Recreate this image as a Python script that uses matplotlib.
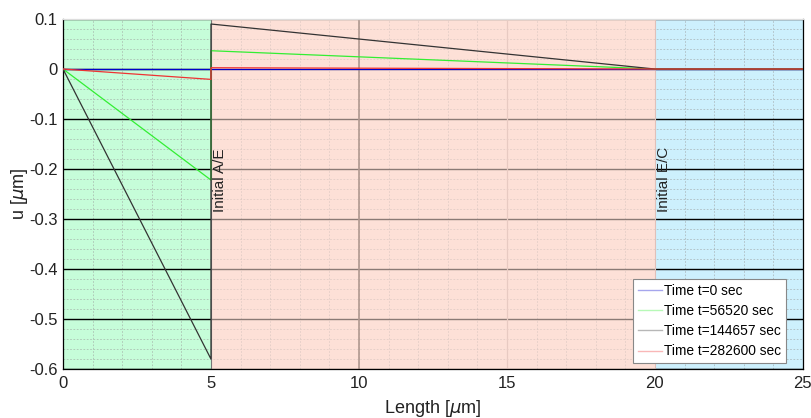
import matplotlib
matplotlib.use("Agg")
import matplotlib.pyplot as plt
from matplotlib.lines import Line2D
import numpy as np

plt.rcParams['font.family'] = ['Liberation Sans', 'DejaVu Sans']
plt.rcParams['axes.unicode_minus'] = False

# Data
x = [0, 5, 5, 20, 25]
labels = ["Time t=0 sec", "Time t=56520 sec", "Time t=144657 sec", "Time t=282600 sec"]
u_t0 = [0, 0, 0, 0, 0]
u_t56520 = [0, -0.222, 0.0366, 0.0, 0.0]
u_t144657 = [0, -0.58, 0.09, 0.0, 0.0]
u_t282600 = [0, -0.0207, 0.0026, 0.0, 0.0]
series = [u_t0, u_t56520, u_t144657, u_t282600]
colors = ['#0000cc', '#33ee33', '#333333', '#ee3333']
regions = [(0, 5, '#c6fdd9'), (5, 20, '#fde0d7'), (20, 25, '#cdf0fd')]
region_labels = [(5, "Initial A/E"), (20, "Initial E/C")]

fig = plt.figure(figsize=(8.11, 4.18), dpi=100)
ax = fig.add_axes([0.0777, 0.117, 0.9123, 0.8375])

ax.set_xlim(0, 25)
ax.set_ylim(-0.6, 0.1)

# region patches
for (a, b, c) in regions:
    ax.axvspan(a, b, color=c, zorder=0, lw=0)

# grid
ax.set_xticks(np.arange(0, 26, 5))
ax.set_yticks(np.round(np.arange(-0.6, 0.101, 0.1), 2))
ax.set_xticks(np.arange(0, 26, 1), minor=True)
ax.set_yticks(np.round(np.arange(-0.6, 0.101, 0.02), 2), minor=True)
ax.grid(which='minor', color='#999999', linestyle=(0, (2, 2)), linewidth=0.6, alpha=0.6, zorder=1)
ax.grid(which='major', axis='y', color='black', linewidth=1.0, zorder=1)
ax.grid(which='major', axis='x', color='#aaaaaa', linestyle=(0, (3, 2)), linewidth=0.7, zorder=1)
ax.set_axisbelow(True)

# salmon overlay to tone down grid in middle region
ax.axvspan(5, 20, color='#fde0d7', alpha=0.55, zorder=1.5, lw=0)
ax.axvline(10, color='#b09890', lw=1.2, zorder=1.6)
ax.axvline(15, color='#e8cac2', lw=0.9, zorder=1.6)
ax.axvline(5, color='#777777', lw=0.8, zorder=1.6)
ax.axvline(20, color='#e0c0b8', lw=0.8, zorder=1.6)

for u, c in zip(series, colors):
    ax.plot(x, u, color=c, lw=0.9, zorder=3)

fmt = lambda v: '0' if abs(v) < 1e-9 else ('%g' % v)
ax.set_xticklabels([fmt(v) for v in np.arange(0, 26, 5)])
ax.set_yticklabels([fmt(v) for v in np.round(np.arange(-0.6, 0.101, 0.1), 2)])
ax.tick_params(which='both', length=0, labelsize=12, colors='#222222')
ax.tick_params(axis='y', pad=4)
ax.tick_params(axis='x', pad=5)

for xv, t in region_labels:
    ax.text(xv + 0.08, -0.286, t, rotation=90, ha='left', va='bottom', fontsize=11, color='#222222', zorder=4)

ax.set_xlabel(r"Length [$\mu$m]", fontsize=13, color='#222222', labelpad=5)
ax.set_ylabel(r"u [$\mu$m]", fontsize=13, color='#222222')
ax.yaxis.set_label_coords(-0.0445, 0.5)

for s in ax.spines.values():
    s.set_color('black')
    s.set_linewidth(0.9)
ax.spines['top'].set_color('#dddddd')

handles = [Line2D([], [], color=c, lw=1.0, alpha=0.35) for c in colors]
leg = ax.legend(handles, labels, loc='lower right', bbox_to_anchor=(0.9765, 0.017), fontsize=9.9,
                frameon=True, fancybox=False, framealpha=1, edgecolor='#888888',
                handlelength=1.7, handletextpad=0.15, borderpad=0.35, labelspacing=0.45, borderaxespad=0)
leg.get_frame().set_linewidth(0.8)
leg.set_zorder(10)

fig.savefig("out.png", dpi=100)
